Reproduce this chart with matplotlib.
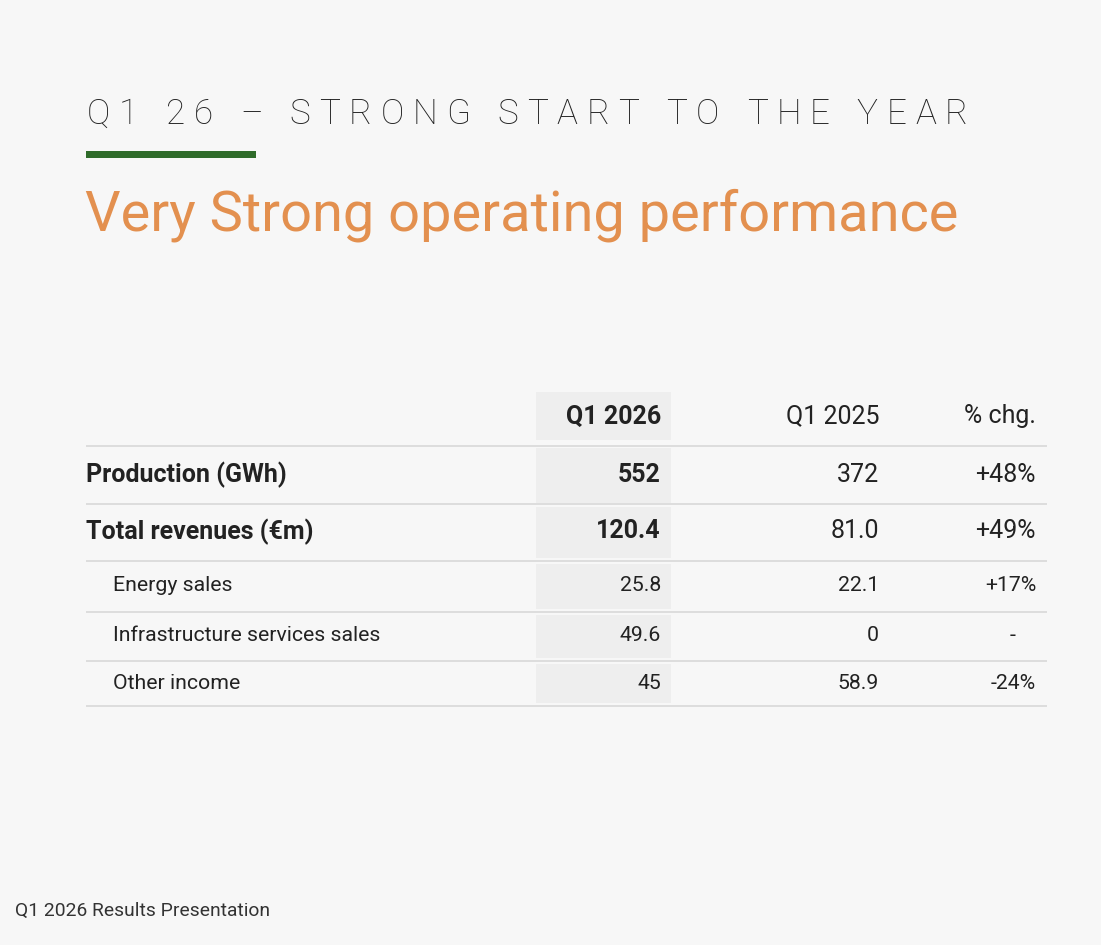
import matplotlib
matplotlib.use("Agg")
import matplotlib.pyplot as plt
from matplotlib.patches import Rectangle

plt.rcParams['font.family'] = ['Roboto', 'DejaVu Sans']

# data
kicker = "Q1 26 – STRONG START TO THE YEAR"
title = "Very Strong operating performance"
footer = "Q1 2026 Results Presentation"
col_headers = ["Q1 2026", "Q1 2025", "% chg."]
row_labels = ["Production (GWh)", "Total revenues (€m)", "Energy sales",
              "Infrastructure services sales", "Other income"]
q1_2026 = ["552", "120.4", "25.8", "49.6", "45"]
q1_2025 = ["372", "81.0", "22.1", "0", "58.9"]
pct_chg = ["+48%", "+49%", "+17%", "-", "-24%"]
row_bold = [True, True, False, False, False]

W, H = 1101, 945
bg = '#f7f7f7'
fig = plt.figure(figsize=(W / 72, H / 72), dpi=72, facecolor=bg)
ax = fig.add_axes([0, 0, 1, 1])
ax.set_xlim(0, W)
ax.set_ylim(H, 0)
ax.axis('off')
ax.set_facecolor(bg)

# letter-spaced kicker, drawn char by char
fig.canvas.draw()
r = fig.canvas.get_renderer()
x0, x1, ky = 87, 968, 114
widths = []
for ch in kicker:
    t = ax.text(0, 0, ch if ch != ' ' else 'n', fontsize=35, fontweight='light')
    bb = t.get_window_extent(renderer=r)
    widths.append(bb.width * (0.5 if ch == ' ' else 1))
    t.remove()
track = (x1 - x0 - sum(widths)) / (len(kicker) - 1)
x = x0
for ch, w in zip(kicker, widths):
    if ch != ' ':
        ax.text(x, ky, ch, fontsize=35, fontweight='light', color='#222222',
                va='center', ha='left')
    x += w + track

ax.add_patch(Rectangle((86, 151), 170, 7, color='#2f6b2a', lw=0))

ax.text(85, 215, title, fontsize=56, fontweight='normal', color='#e3904f',
        va='center', ha='left')

# table
left, right = 86, 1047
shade_x0, shade_x1 = 536, 671
col_x = [661, 879, 1036]
header_y = 416.5
row_y = [474.5, 531.5, 585.5, 635.5, 683.5]
line_y = [446, 504, 561, 612, 661, 706]
row_top = [392, 448, 507, 564, 615, 664]
row_bot = [440, 503, 558, 609, 658, 703]

for t0, t1 in zip(row_top, row_bot):
    ax.add_patch(Rectangle((shade_x0, t0), shade_x1 - shade_x0, t1 - t0,
                           color='#eeeeee', lw=0))
for ly in line_y:
    ax.plot([left, right], [ly, ly], color='#dddddd', lw=2, solid_capstyle='butt')

for j, h in enumerate(col_headers):
    ax.text(col_x[j], header_y, h, fontsize=25,
            fontweight='bold' if j == 0 else 'normal', color='#222222',
            ha='right', va='center')

for i, lab in enumerate(row_labels):
    b = row_bold[i]
    fs = 25 if b else 21.3
    ax.text(left + (0 if b else 27), row_y[i], lab, fontsize=fs,
            fontweight='bold' if b else 'normal', color='#222222',
            ha='left', va='center')
    vals = [q1_2026[i], q1_2025[i], pct_chg[i]]
    for j, v in enumerate(vals):
        if v == '-':
            ax.text(col_x[j] - 23, row_y[i], v, fontsize=fs, color='#222222',
                    ha='center', va='center')
            continue
        ax.text(col_x[j], row_y[i], v, fontsize=fs,
                fontweight='bold' if (b and j == 0) else 'normal',
                color='#222222', ha='right', va='center')

ax.text(15, 911, footer, fontsize=19.3, fontweight='normal', color='#333333',
        ha='left', va='center')

fig.savefig('out.png', dpi=72, facecolor=bg)
